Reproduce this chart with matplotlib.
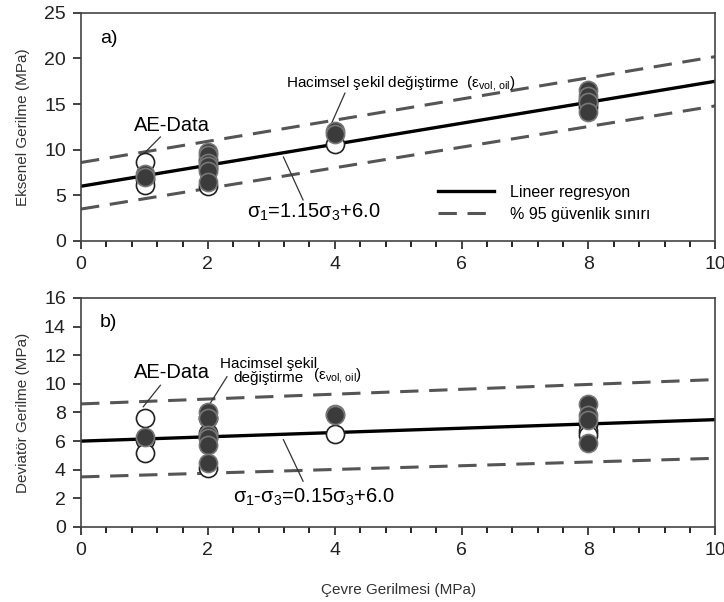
import numpy as np
import matplotlib.pyplot as plt
from matplotlib.ticker import MultipleLocator
from matplotlib.lines import Line2D

plt.rcParams['font.family'] = ['Liberation Sans', 'DejaVu Sans']
plt.rcParams['mathtext.fontset'] = 'custom'
plt.rcParams['mathtext.rm'] = 'Liberation Sans'
plt.rcParams['mathtext.it'] = 'Liberation Sans'

# --- veri: (a) eksenel gerilme ---
a_open_x = [1, 1, 1, 2, 2, 2, 4, 8, 8, 8]
a_open_y = [8.7, 6.8, 6.1, 8.9, 8.0, 6.0, 10.6, 15.5, 15.1, 14.7]
a_fill_x = [1, 1, 2, 2, 2, 2, 2, 2, 4, 4, 8, 8, 8, 8]
a_fill_y = [7.3, 7.0, 9.8, 9.4, 8.5, 8.2, 7.7, 6.5, 12.0, 11.7, 16.5, 15.9, 15.2, 14.1]
a_fit = (1.15, 6.0)          # egim, kesisim
a_up = (8.6, 20.2)           # x=0 ve x=10 degerleri
a_lo = (3.5, 14.8)

# --- veri: (b) deviator gerilme ---
b_open_x = [1, 1, 1, 2, 2, 2, 2, 4, 8, 8, 8]
b_open_y = [7.6, 6.1, 5.2, 7.6, 6.6, 6.3, 4.1, 6.5, 7.2, 6.7, 6.4]
b_fill_x = [1, 2, 2, 2, 2, 2, 2, 4, 4, 8, 8, 8, 8]
b_fill_y = [6.3, 8.0, 7.6, 6.4, 6.2, 5.7, 4.5, 7.9, 7.8, 8.6, 7.8, 7.5, 5.9]
b_fit = (0.15, 6.0)
b_up = (8.6, 10.3)
b_lo = (3.5, 4.8)

x_ends = [0, 10]
GRAY = '#555555'
DARK = '#3b3b3b'

fig = plt.figure(figsize=(7.24, 6.02), dpi=100)
ax1 = fig.add_axes([0.112, 0.5997, 0.876, 0.379])
ax2 = fig.add_axes([0.112, 0.1246, 0.876, 0.3804])


def panel(ax, ox, oy, fx, fy, fit, up, lo, ymax, ystep):
    xx = np.array(x_ends, dtype=float)
    ax.plot(xx, fit[0] * xx + fit[1], color='black', lw=2.4, zorder=2)
    ax.plot(xx, up, color=GRAY, lw=2.2, dashes=(6, 3.5), zorder=2)
    ax.plot(xx, lo, color=GRAY, lw=2.2, dashes=(6, 3.5), zorder=2)
    ax.scatter(ox, oy, s=170, facecolor='white', edgecolor='#222222', lw=1.2, zorder=3)
    ax.scatter(fx, fy, s=170, facecolor=DARK, edgecolor='#777777', lw=1.2, zorder=4)
    ax.set_xlim(0, 10)
    ax.set_ylim(0, ymax)
    ax.xaxis.set_major_locator(MultipleLocator(2))
    ax.xaxis.set_minor_locator(MultipleLocator(0.4))
    ax.yaxis.set_major_locator(MultipleLocator(ystep))
    ax.tick_params(axis='both', which='major', direction='out', length=6,
                   width=1.2, labelsize=14, colors='#222222', pad=5)
    ax.tick_params(axis='x', which='minor', direction='out', length=4, width=1.2)
    ax.tick_params(top=False, right=False)
    for s in ax.spines.values():
        s.set_color('#444444')
        s.set_linewidth(1.2)


panel(ax1, a_open_x, a_open_y, a_fill_x, a_fill_y, a_fit, a_up, a_lo, 25, 5)
panel(ax2, b_open_x, b_open_y, b_fill_x, b_fill_y, b_fit, b_up, b_lo, 16, 2)

lc = '#333333'
# (a) yazilar
ax1.text(0.3, 22.2, 'a)', fontsize=14, va='center')
ax1.text(1.44, 12.7, 'AE-Data', fontsize=14.5, ha='center', va='center')
ax1.plot([1.25, 0.98], [11.4, 9.5], color=lc, lw=0.9)
ax1.text(3.23, 17.3, r'Hacimsel şekil değiştirme  (ε$_{\mathrm{vol,\,oil}}$)',
         fontsize=11, va='center')
ax1.plot([4.16, 3.95], [16.2, 12.9], color=lc, lw=0.9)
ax1.text(3.67, 3.1, r'σ$_1$=1.15σ$_3$+6.0', fontsize=14.5, ha='center', va='center')
ax1.plot([3.19, 3.5], [9.2, 4.5], color=lc, lw=0.9)
handles = [Line2D([], [], color='black', lw=2.4),
           Line2D([], [], color=GRAY, lw=2.2, dashes=(6, 3.5))]
ax1.legend(handles, ['Lineer regresyon', '% 95 güvenlik sınırı'], loc='lower left',
           bbox_to_anchor=(0.54, 0.02), frameon=False, fontsize=11.5,
           handlelength=3.5, handletextpad=1.0, labelspacing=0.45)
ax1.set_ylabel('Eksenel Gerilme (MPa)', fontsize=11, color='#333333', labelpad=10)

# (b) yazilar
ax2.text(0.3, 14.3, 'b)', fontsize=14, va='center')
ax2.text(1.44, 10.8, 'AE-Data', fontsize=14.5, ha='center', va='center')
ax2.plot([1.25, 0.98], [9.9, 8.4], color=lc, lw=0.9)
ax2.text(2.95, 10.9, 'Hacimsel şekil\ndeğiştirme', fontsize=11, ha='center',
         va='center', linespacing=1.05)
ax2.text(3.65, 10.6, r'(ε$_{\mathrm{vol,\,oil}}$)', fontsize=11, va='center')
ax2.plot([2.30, 2.03], [10.5, 8.6], color=lc, lw=0.9)
ax2.text(3.67, 2.1, r'σ$_1$-σ$_3$=0.15σ$_3$+6.0', fontsize=14.5, ha='center', va='center')
ax2.plot([3.19, 3.5], [6.1, 3.2], color=lc, lw=0.9)
ax2.set_ylabel('Deviatör Gerilme (MPa)', fontsize=11, color='#333333', labelpad=10)
ax2.set_xlabel('Çevre Gerilmesi (MPa)', fontsize=11, color='#333333', labelpad=17)

fig.savefig('out.png', dpi=100)
